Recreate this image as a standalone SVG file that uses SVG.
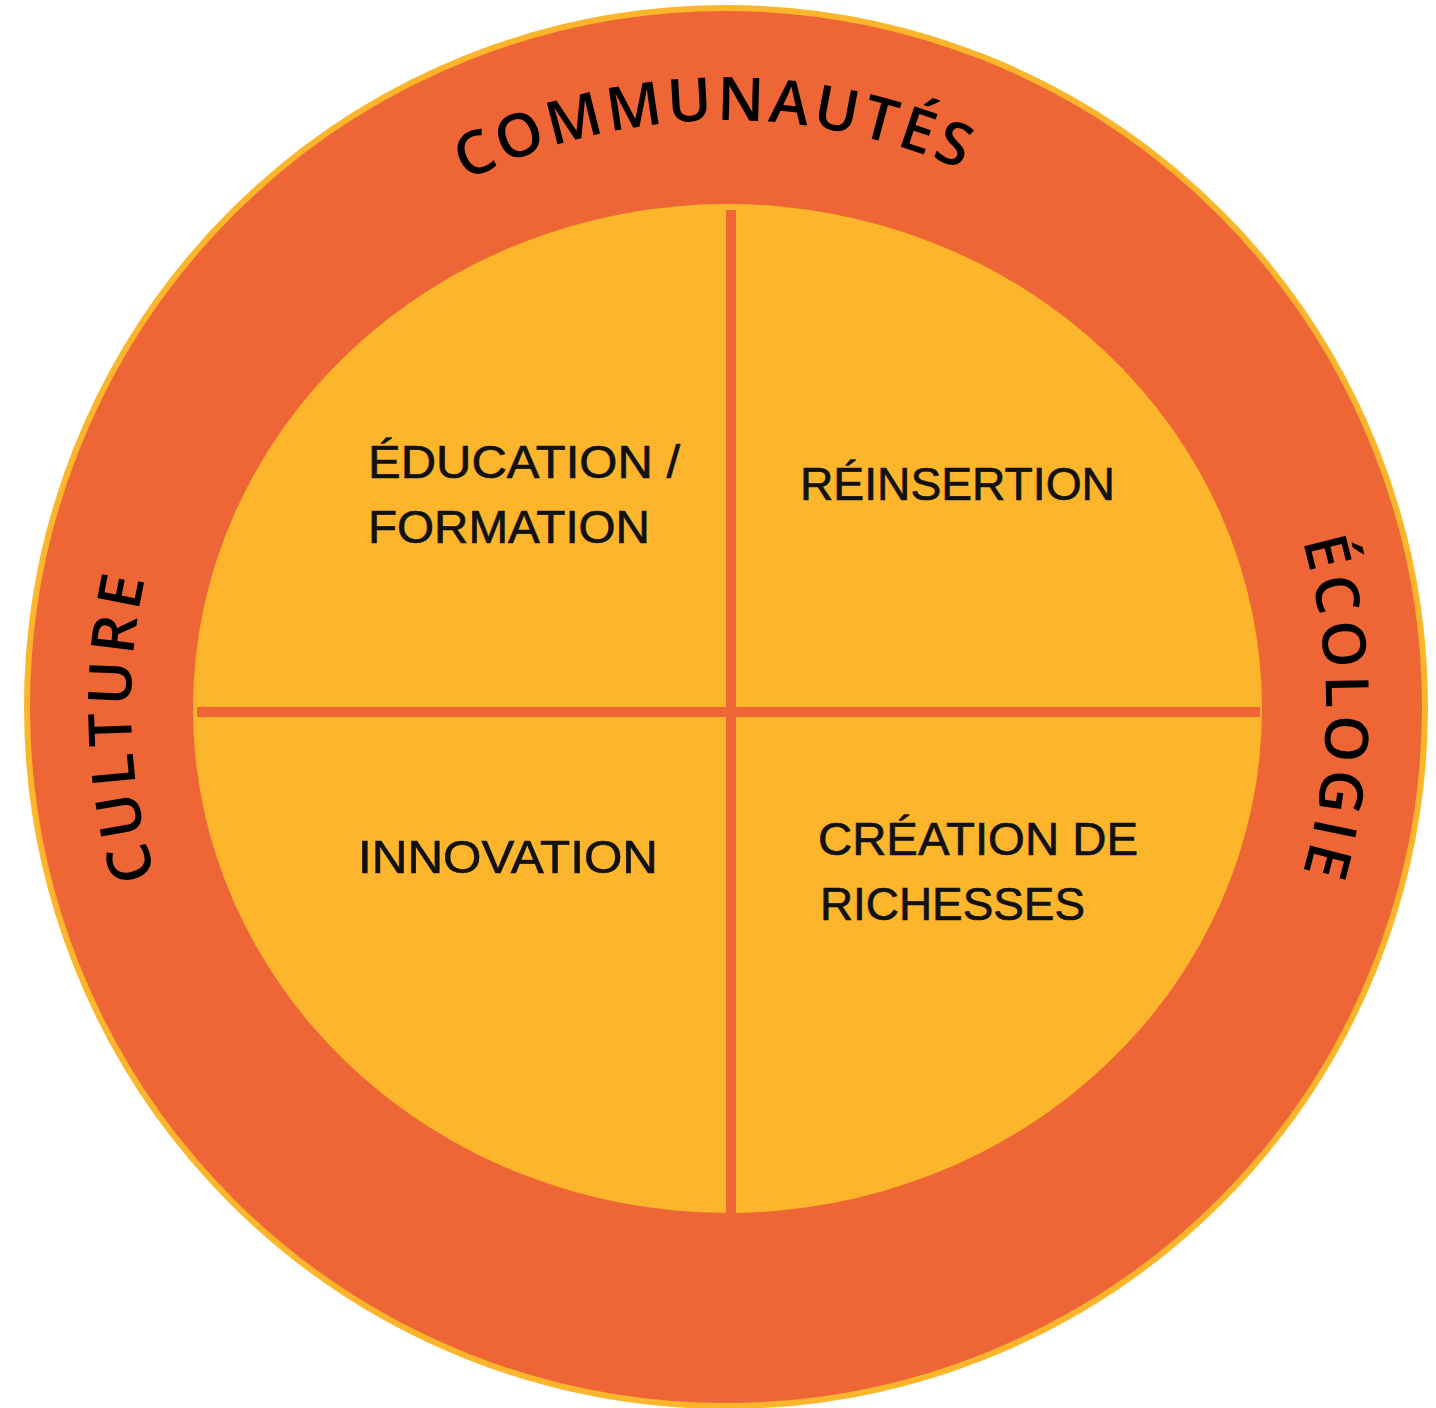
<svg xmlns="http://www.w3.org/2000/svg" width="1436" height="1408" viewBox="0 0 1436 1408">
  <style>
    .ring { fill: #EE6635; stroke: #FDB62B; stroke-width: 6; }
    .core { fill: #FDB62B; }
    .divider { stroke: #EE6635; stroke-width: 10; }
    .arc { font-family: "Open Sans", "Liberation Sans", sans-serif; font-weight: 600; font-size: 60px; fill: #000; letter-spacing: 6px; }
    .arc-tight { letter-spacing: 4px; }
    .label { font-family: "Liberation Sans", Arial, sans-serif; font-size: 47px; fill: #111; stroke: #111; stroke-width: 0.7px; }
  </style>
  <defs>
    <path id="arcTop" d="M 139,707 A 587 587 0 0 1 1313,707" fill="none"/>
    <path id="arcLeft" d="M 726,1302 A 595 595 0 0 1 726,112" fill="none"/>
    <path id="arcRight" d="M 726,107 A 600 600 0 0 1 726,1307" fill="none"/>
  </defs>
  <g id="outer-ring">
    <circle class="ring" cx="726" cy="707" r="699"/>
  </g>
  <g id="inner-circle">
    <ellipse class="core" cx="727.5" cy="708.5" rx="534.5" ry="504.5"/>
  </g>
  <g id="connectors">
    <line class="divider" x1="731" y1="210" x2="731" y2="1213"/>
    <line class="divider" x1="197" y1="712" x2="1260" y2="712"/>
  </g>
  <g id="communautes">
    <text class="arc arc-tight"><textPath href="#arcTop" startOffset="910" text-anchor="middle">COMMUNAUTÉS</textPath></text>
  </g>
  <g id="culture">
    <text class="arc"><textPath href="#arcLeft" startOffset="916" text-anchor="middle">CULTURE</textPath></text>
  </g>
  <g id="ecologie">
    <text class="arc"><textPath href="#arcRight" startOffset="945" text-anchor="middle">ÉCOLOGIE</textPath></text>
  </g>
  <g id="education">
    <text class="label" x="368" y="478" textLength="312" lengthAdjust="spacingAndGlyphs">ÉDUCATION /</text>
    <text class="label" x="368" y="543" textLength="282" lengthAdjust="spacingAndGlyphs">FORMATION</text>
  </g>
  <g id="reinsertion">
    <text class="label" x="800" y="500" textLength="315" lengthAdjust="spacingAndGlyphs">RÉINSERTION</text>
  </g>
  <g id="innovation">
    <text class="label" x="358" y="873" textLength="300" lengthAdjust="spacingAndGlyphs">INNOVATION</text>
  </g>
  <g id="creation">
    <text class="label" x="818" y="855" textLength="320" lengthAdjust="spacingAndGlyphs">CRÉATION DE</text>
    <text class="label" x="820" y="920" textLength="265" lengthAdjust="spacingAndGlyphs">RICHESSES</text>
  </g>
</svg>
